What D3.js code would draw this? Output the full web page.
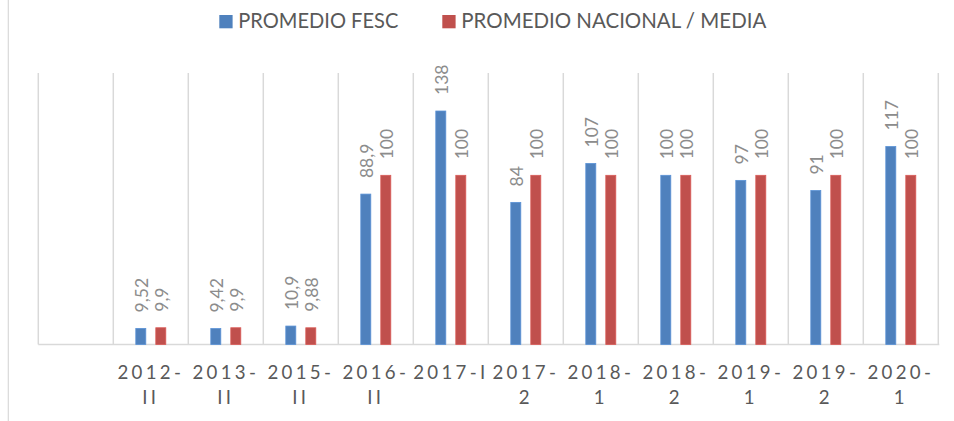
<!DOCTYPE html>
<html>
<head>
<meta charset="utf-8">
<script src="https://cdn.jsdelivr.net/npm/d3@7"></script>
<style>
  html, body { margin: 0; padding: 0; background: #fff; }
  svg { display: block; font-family: Lato, "Open Sans", sans-serif; }
</style>
</head>
<body>
<svg id="chart" width="954" height="421"></svg>
<script>
// Categories (first slot is an empty period)
const categories = ["", "2012-II", "2013-II", "2015-II", "2016-II", "2017-I", "2017-2",
                    "2018-1", "2018-2", "2019-1", "2019-2", "2020-1"];
// Series values
const promedioFesc     = [null, 9.52, 9.42, 10.9, 88.9, 138, 84, 107, 100, 97, 91, 117];
const promedioNacional = [null, 9.9, 9.9, 9.88, 100, 100, 100, 100, 100, 100, 100, 100];
const seriesNames  = ["PROMEDIO FESC", "PROMEDIO NACIONAL / MEDIA"];
const seriesColors = ["#4F81BD", "#C0504D"];
const yMax = 160;

const svg = d3.select("#chart");
const W = 954, H = 421;
const plot = { left: 38.3, right: 938.3, top: 73.8, bottom: 344.5 };

const x = d3.scaleBand().domain(categories.map((c, i) => i))
  .range([plot.left, plot.right]).padding(0);
const inner = d3.scaleBand().domain([0, 1])
  .range([0, x.bandwidth()]).paddingInner(0.5).paddingOuter(1.125);
const y = d3.scaleLinear().domain([0, yMax]).range([plot.bottom, plot.top]);

// Outer chart-area border (left edge)
svg.append("line").attr("x1", 8.3).attr("x2", 8.3).attr("y1", 0).attr("y2", H)
  .attr("stroke", "#d9d9d9").attr("stroke-width", 1.2);

// Vertical category separators
const bounds = categories.map((c, i) => x(i)).concat([plot.right]);
svg.append("g").selectAll("line").data(bounds).join("line")
  .attr("x1", d => d).attr("x2", d => d)
  .attr("y1", plot.top - 0.8).attr("y2", plot.bottom)
  .attr("stroke", "#d9d9d9").attr("stroke-width", 1.5);

// Category axis line
svg.append("line").attr("x1", plot.left).attr("x2", plot.right + 1)
  .attr("y1", plot.bottom).attr("y2", plot.bottom)
  .attr("stroke", "#d9d9d9").attr("stroke-width", 1.5);

// Bars
const series = [promedioFesc, promedioNacional];
const fmt = v => String(v).replace(".", ",");
series.forEach((vals, s) => {
  const data = vals.map((v, i) => ({ i, v })).filter(d => d.v != null);
  const g = svg.append("g");
  g.selectAll("rect").data(data).join("rect")
    .attr("x", d => x(d.i) + inner(s))
    .attr("width", inner.bandwidth())
    .attr("y", d => y(d.v))
    .attr("height", d => y(0) - y(d.v))
    .attr("fill", seriesColors[s])
    .attr("stroke", d3.color(seriesColors[s]).brighter(0.35))
    .attr("stroke-width", 0.8);
  g.selectAll("text").data(data).join("text")
    .attr("transform", d => `translate(${x(d.i) + inner(s) + inner.bandwidth() / 2 + 0.8},${y(d.v) - 16}) rotate(-90)`)
    .attr("dominant-baseline", "central")
    .attr("font-size", 17.5)
    .attr("fill", "#8c8c8c")
    .text(d => fmt(d.v));
});

// Category labels, wrapped after the hyphen when too wide for the band
const labels = svg.append("g").attr("fill", "#595959").attr("font-size", 18.67)
  .attr("letter-spacing", 3.3);
categories.forEach((c, i) => {
  if (!c) return;
  const cx = x(i) + x.bandwidth() / 2;
  const t = labels.append("text").attr("x", cx).attr("y", 379.3)
    .attr("text-anchor", "middle").text(c);
  const w = t.node().getComputedTextLength() - 3.3;
  if (w > x.bandwidth() - 2 && c.indexOf("-") >= 0) {
    const k = c.indexOf("-") + 1;
    t.text(c.slice(0, k));
    labels.append("text").attr("x", cx).attr("y", 404.3)
      .attr("text-anchor", "middle").text(c.slice(k));
  }
});

// Legend (text set in a slightly condensed width)
const legendTextWidths = [160, 305];
const legend = svg.append("g").attr("font-size", 21.33).attr("fill", "#595959");
let lx = 219.3;
seriesNames.forEach((name, s) => {
  legend.append("rect").attr("x", lx).attr("y", 15).attr("width", 13.3).attr("height", 13.3)
    .attr("fill", seriesColors[s]);
  legend.append("text").attr("x", lx + 19).attr("y", 28.3)
    .attr("textLength", legendTextWidths[s]).attr("lengthAdjust", "spacingAndGlyphs")
    .text(name);
  lx += 19 + legendTextWidths[s] + 44;
});
</script>
</body>
</html>
